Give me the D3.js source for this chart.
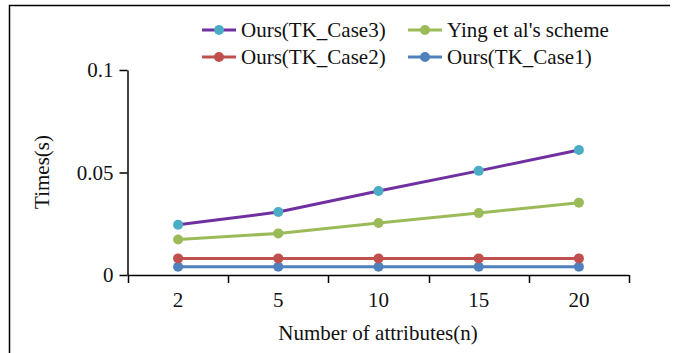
<!DOCTYPE html>
<html>
<head>
<meta charset="utf-8">
<script src="https://cdn.jsdelivr.net/npm/d3@7.9.0/dist/d3.min.js"></script>
<style>
  body { margin: 0; background: #fff; }
  text { font-family: "Liberation Serif", "Times New Roman", serif; fill: #111; }
</style>
</head>
<body>
<div id="chart"></div>
<script>
// data
const attributes = ["2", "5", "10", "15", "20"];
const case3 = [0.0245, 0.0307, 0.0410, 0.0508, 0.0610];
const ying = [0.0173, 0.0203, 0.0254, 0.0302, 0.0353];
const case2 = [0.0081, 0.0081, 0.0081, 0.0081, 0.0081];
const case1 = [0.0040, 0.0040, 0.0040, 0.0040, 0.0040];
const yTicks = [0, 0.05, 0.1];
const yTickLabels = ["0", "0.05", "0.1"];

const series = [
  { name: "Ours(TK_Case3)", values: case3, line: "#7030A0", dot: "#4BACC6" },
  { name: "Ying et al's scheme", values: ying, line: "#9BBB59", dot: "#9BBB59" },
  { name: "Ours(TK_Case2)", values: case2, line: "#C0504D", dot: "#C0504D" },
  { name: "Ours(TK_Case1)", values: case1, line: "#4F81BD", dot: "#4F81BD" }
];

const W = 675, H = 353;
const svg = d3.select("#chart").append("svg")
  .attr("width", W).attr("height", H);

// frame (top and left edges of the cropped figure)
svg.append("path")
  .attr("d", "M9.5,353 V5.5 H670")
  .attr("fill", "none").attr("stroke", "#000").attr("stroke-width", 1.5);

const x = d3.scaleBand().domain(attributes).range([128, 629]);
const y = d3.scaleLinear().domain([0, 0.1]).range([275, 70]);

// x axis
const xAxis = svg.append("g")
  .attr("transform", "translate(0,275)")
  .call(d3.axisBottom(x).tickSize(0).tickPadding(0));
xAxis.select(".domain").remove();
xAxis.selectAll("text").attr("y", 32).attr("dy", null)
  .style("font-size", "21px").attr("font-family", null);

// x axis line with ticks at band edges
const edges = attributes.map(a => x(a)).concat([x.range()[1]]);
svg.append("line")
  .attr("x1", x.range()[0]).attr("x2", x.range()[1])
  .attr("y1", 275.5).attr("y2", 275.5)
  .attr("stroke", "#000").attr("stroke-width", 1.5);
svg.append("g").selectAll("line").data(edges).join("line")
  .attr("x1", d => Math.round(d) + 0.5).attr("x2", d => Math.round(d) + 0.5)
  .attr("y1", 275).attr("y2", 283)
  .attr("stroke", "#000").attr("stroke-width", 1.5);

// y axis
const yAxis = svg.append("g")
  .attr("transform", "translate(127.5,0)")
  .call(d3.axisLeft(y).tickValues(yTicks)
    .tickFormat((d, i) => yTickLabels[i]).tickSize(8).tickSizeOuter(0).tickPadding(6));
yAxis.select(".domain").attr("stroke-width", 1.5);
yAxis.selectAll(".tick line").attr("stroke-width", 1.5);
yAxis.selectAll("text").style("font-size", "21px").attr("font-family", null);

// axis titles
svg.append("text")
  .attr("transform", "translate(49,172) rotate(-90)")
  .attr("text-anchor", "middle")
  .style("font-size", "21px")
  .text("Times(s)");
svg.append("text")
  .attr("x", 378).attr("y", 340)
  .attr("text-anchor", "middle")
  .style("font-size", "21px")
  .text("Number of attributes(n)");

// lines and markers
const cx = d => x(d) + x.bandwidth() / 2;
const line = d3.line()
  .x((d, i) => cx(attributes[i]))
  .y(d => y(d));

// draw bottom series first
series.slice().reverse().forEach(s => {
  svg.append("path")
    .datum(s.values)
    .attr("d", line)
    .attr("fill", "none")
    .attr("stroke", s.line)
    .attr("stroke-width", 3);
  svg.append("g").selectAll("circle").data(s.values).join("circle")
    .attr("cx", (d, i) => cx(attributes[i]))
    .attr("cy", d => y(d))
    .attr("r", 5)
    .attr("fill", s.dot);
});

// legend
const legendPos = [
  { x: 202, y: 30 }, { x: 408, y: 30 },
  { x: 202, y: 57 }, { x: 408, y: 57 }
];
series.forEach((s, i) => {
  const p = legendPos[i];
  const g = svg.append("g").attr("transform", `translate(${p.x},${p.y})`);
  g.append("line").attr("x1", 0).attr("x2", 34).attr("y1", 0).attr("y2", 0)
    .attr("stroke", s.line).attr("stroke-width", 3);
  g.append("circle").attr("cx", 17).attr("cy", 0).attr("r", 5).attr("fill", s.dot);
  g.append("text").attr("x", 39).attr("y", 7)
    .style("font-size", "21px")
    .text(s.name);
});
</script>
</body>
</html>
